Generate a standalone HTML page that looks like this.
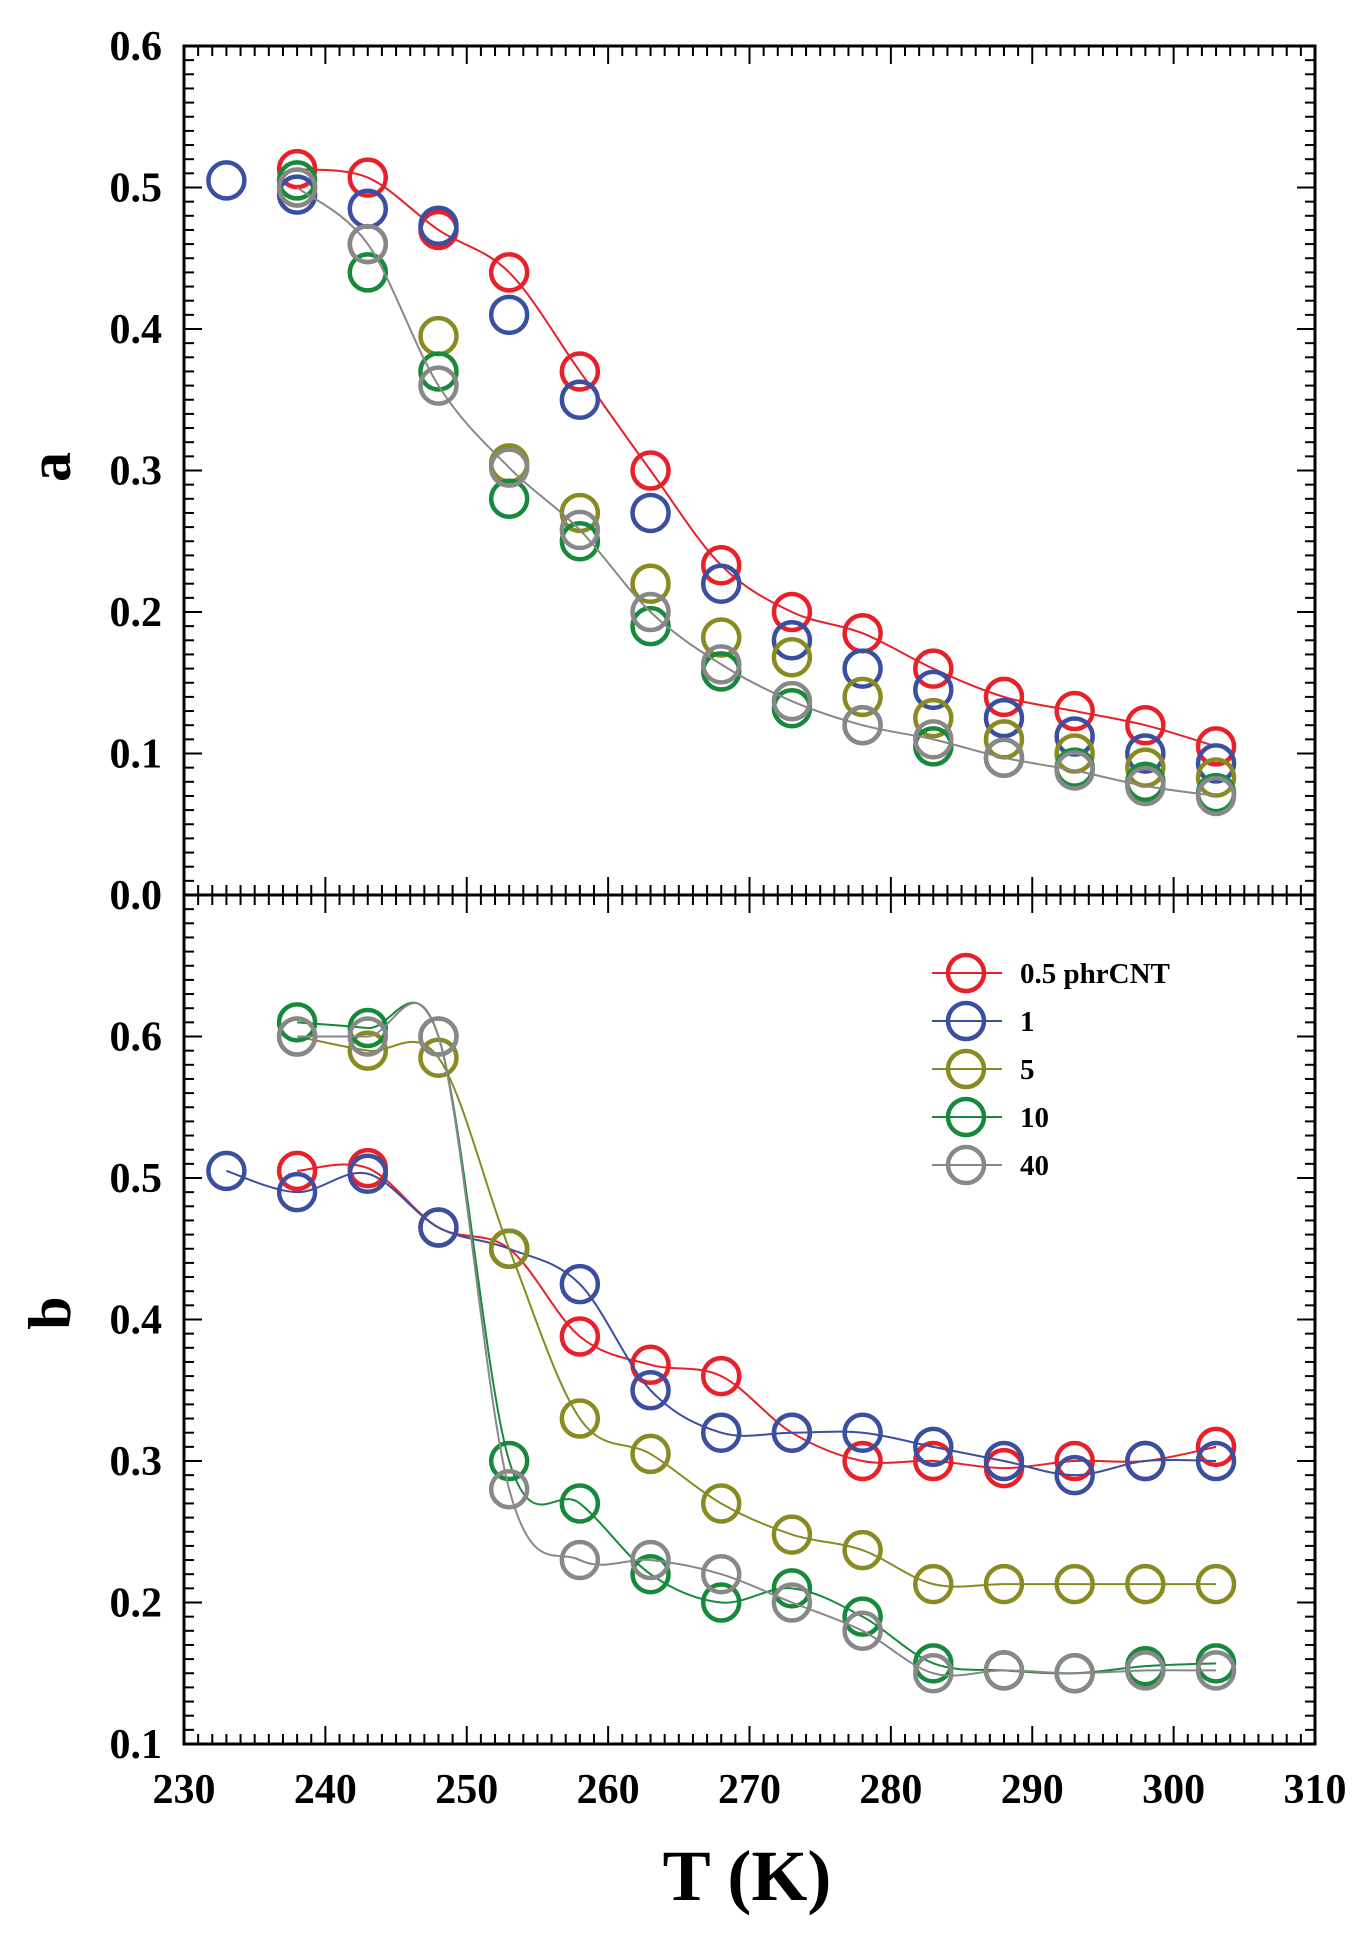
<!DOCTYPE html>
<html><head><meta charset="utf-8"><style>
html,body{margin:0;padding:0;background:#fff;}
svg{display:block;font-family:"Liberation Serif",serif;font-weight:bold;}
</style></head><body>
<svg id="chart" width="1369" height="1960" viewBox="0 0 1369 1960" xmlns="http://www.w3.org/2000/svg"></svg>
<script>
const temps = [233,238,243,248,253,258,263,268,273,278,283,288,293,298,303];
const seriesNames = ['0.5 phrCNT','1','5','10','40'];
const colors = ['#e8202a','#3a4fa0','#8a8a22','#168a3a','#888888'];
// panel a values (null = no point)
const aRed   = [null,.513,.507,.47,.44,.37,.30,.233,.20,.185,.16,.14,.13,.12,.105];
const aBlue  = [.505,.495,.485,.473,.41,.35,.27,.22,.18,.16,.145,.125,.112,.10,.093];
const aOlive = [null,.50,.46,.395,.305,.27,.22,.182,.168,.14,.125,.11,.10,.09,.083];
const aGreen = [null,.505,.44,.37,.28,.25,.19,.158,.132,.12,.105,.097,.09,.08,.072];
const aGray  = [null,.50,.46,.36,.302,.258,.20,.163,.137,.12,.11,.097,.088,.077,.07];
// panel b values
const bRed   = [null,.505,.507,.465,.45,.388,.368,.36,.32,.30,.30,.295,.30,.30,.31];
const bBlue  = [.505,.49,.503,.465,.45,.425,.35,.32,.32,.32,.31,.30,.29,.30,.30];
const bOlive = [null,.60,.59,.585,.45,.33,.305,.27,.248,.237,.213,.213,.213,.213,.213];
const bGreen = [null,.61,.606,.60,.30,.27,.22,.20,.21,.19,.157,.152,.15,.155,.157];
const bGray  = [null,.60,.60,.60,.28,.23,.23,.22,.20,.18,.15,.152,.15,.152,.152];
const xTicks = [230,240,250,260,270,280,290,300,310];
const aTicks = [0.0,0.1,0.2,0.3,0.4,0.5,0.6];
const bTicks = [0.1,0.2,0.3,0.4,0.5,0.6];

const NS='http://www.w3.org/2000/svg';
const svg=document.getElementById('chart');
const X0=184,X1=1315;
const MID=895;
const xs=v=>X0+(v-230)*(X1-X0)/80;
const yA=v=>MID-(v-0)*(MID-46)/0.6;
const yB=v=>1744-(v-0.1)*(1744-MID)/0.6;
function el(tag,attrs,parent){const e=document.createElementNS(NS,tag);for(const k in attrs)e.setAttribute(k,attrs[k]);(parent||svg).appendChild(e);return e;}

function spline(pts){
  if(pts.length<2)return '';
  let d='M'+pts[0][0]+','+pts[0][1];
  for(let i=0;i<pts.length-1;i++){
    const p0=pts[i-1]||pts[i],p1=pts[i],p2=pts[i+1],p3=pts[i+2]||pts[i+1];
    const c1=[p1[0]+(p2[0]-p0[0])/6,p1[1]+(p2[1]-p0[1])/6];
    const c2=[p2[0]-(p3[0]-p1[0])/6,p2[1]-(p3[1]-p1[1])/6];
    d+=' C'+c1[0]+','+c1[1]+' '+c2[0]+','+c2[1]+' '+p2[0]+','+p2[1];
  }
  return d;
}

function axes(name,top,bottom,yfun,ticks,lo,hi){
  const g=el('g',{});
  
  
  el('rect',{x:X0,y:top,width:X1-X0,height:bottom-top,fill:'none',stroke:'#000','stroke-width':3},g);
  for(let v=230;v<=310;v++){
    const x=xs(v),L=(v%10===0)?18:10;
    el('line',{x1:x,y1:bottom,x2:x,y2:bottom-L,stroke:'#000','stroke-width':2},g);
    el('line',{x1:x,y1:top,x2:x,y2:top+L,stroke:'#000','stroke-width':2},g);
  }
  for(let k=Math.round(lo*100);k<=Math.round(hi*100);k++){
    const y=yfun(k/100),L=(k%10===0)?18:10;
    el('line',{x1:X0,y1:y,x2:X0+L,y2:y,stroke:'#000','stroke-width':2},g);
    el('line',{x1:X1,y1:y,x2:X1-L,y2:y,stroke:'#000','stroke-width':2},g);
  }
  ticks.forEach(v=>{
    const t=el('text',{x:162,y:yfun(v)+14,'text-anchor':'end','font-size':42},g);
    t.textContent=v.toFixed(1);
    
    
  });
}
axes('panel-a',46,MID,yA,aTicks,0,0.6);
axes('panel-b',MID,1744,yB,bTicks,0.1,0.7);

function drawSeries(panel,arrs,yfun,withLine){
  arrs.forEach((arr,i)=>{
    const g=el('g',{});
    
    
    const pts=[];
    arr.forEach((v,j)=>{if(v!==null)pts.push([xs(temps[j]),yfun(v)]);});
    if(withLine[i]){
      const p=el('path',{d:spline(pts),fill:'none',stroke:colors[i],'stroke-width':2},g);
      
      
    }
    pts.forEach(p=>{
      const c=el('circle',{cx:p[0],cy:p[1],r:18,fill:'none',stroke:colors[i],'stroke-width':4.5},g);
      
      
    });
  });
}
drawSeries('a',[aRed,aBlue,aOlive,aGreen,aGray],yA,[true,false,false,false,true]);
drawSeries('b',[bRed,bBlue,bOlive,bGreen,bGray],yB,[true,true,true,true,true]);

xTicks.forEach(v=>{
  const t=el('text',{x:xs(v),y:1803,'text-anchor':'middle','font-size':42});
  t.textContent=v;
  
  
});
let t=el('text',{x:747,y:1900,'text-anchor':'middle','font-size':72});
t.textContent='T (K)';


t=el('text',{x:0,y:0,'text-anchor':'middle','font-size':60,transform:'translate(70,467) rotate(-90)'});
t.textContent='a';


t=el('text',{x:0,y:0,'text-anchor':'middle','font-size':60,transform:'translate(70,1313) rotate(-90)'});
t.textContent='b';



seriesNames.forEach((n,i)=>{
  const y=973+i*48;
  const g=el('g',{});
  
  
  el('line',{x1:932,y1:y,x2:1002,y2:y,stroke:colors[i],'stroke-width':2},g);
  el('circle',{cx:966,cy:y,r:18,fill:'none',stroke:colors[i],'stroke-width':4.5},g);
  const tt=el('text',{x:1020,y:y+10,'font-size':29},g);
  tt.textContent=n;
});
</script>
</body></html>
